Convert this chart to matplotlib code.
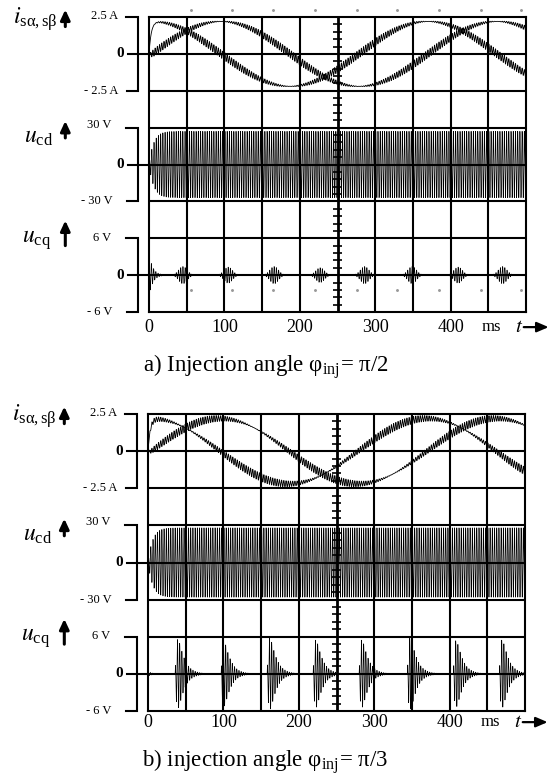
import numpy as np
import matplotlib
matplotlib.use('Agg')
import matplotlib.pyplot as plt

plt.rcParams['font.family'] = ['Liberation Serif', 'DejaVu Serif']
plt.rcParams['mathtext.fontset'] = 'stix'

# ---- values ----
captions = ['a) Injection angle φ$_{\\mathregular{inj}}$= π/2',
            'b) injection angle φ$_{\\mathregular{inj}}$= π/3']
x_tick_ms = [0, 100, 200, 300, 400]

# stator currents i_sα, i_sβ (A)
cur_peak = [2.2, 2.2]
cur_period_ms = [366, 366]
cur_delay_ms = [4, 4]
cur_ripple = [0.27, 0.27]
ripple_shift = [0.0, np.pi / 4]

# injected d voltage (V)
ucd_peak = [27, 28]
carrier_hz = 340

# q voltage bursts: start transient + bursts (ms, V)
ucq_start_v = [3.6, 0.4]
ucq_burst_ms = [[45, 105, 166, 227, 286, 349, 410, 469],
                [36, 97, 158, 219, 280, 344, 405, 466]]
ucq_burst_v = [[1.4, 1.3, 1.4, 1.2, 1.4, 1.4, 1.3, 1.4],
               [5.6, 5.3, 5.8, 5.5, 5.5, 5.8, 5.4, 5.5]]

# faint scope dots (panel a only)
dot_ms = [56, 110, 164, 220, 276, 329, 385, 440, 493]

# scale per division
div_i = 2.5
div_ucd = 30.0
div_ucq = 6.0

t = np.linspace(0, 500, 50001)
carrier = np.sin(2 * np.pi * carrier_hz * t / 1000)


def currents(k):
    th = 2 * np.pi * (t - cur_delay_ms[k]) / cur_period_ms[k]
    env = 1 - np.exp(-t / 3.0)
    ia = cur_peak[k] * np.cos(th) * env + cur_ripple[k] * np.sin(th - ripple_shift[k]) * carrier * env
    ib = cur_peak[k] * np.sin(th) * env - cur_ripple[k] * np.cos(th - ripple_shift[k]) * carrier * env
    return ia, ib


def ucq_wave(k):
    u = ucq_start_v[k] * np.exp(-t / 5.0) * (1 - np.exp(-t / 0.6)) * np.sin(2 * np.pi * carrier_hz * t / 1000 + 1.0)
    for c, a in zip(ucq_burst_ms[k], ucq_burst_v[k]):
        x = t - c
        if k == 0:
            g = np.exp(-(x / 8.0) ** 2)
            u += a * g * np.cos(2 * np.pi * carrier_hz * x / 1000)
        else:
            xp = np.clip(x, 0, None)
            g = (1 - np.exp(-xp / 2.5)) * np.exp(-xp / 8.0)
            g = g / g.max()
            u += a * g * np.sin(2 * np.pi * carrier_hz * xp / 1000 + 1.3)
    return u


def draw_panel(ax, k, tick_y, cap_y):
    ax.set_xlim(0, 500)
    ax.set_ylim(0, 8)
    ax.set_xticks([])
    ax.set_yticks([])
    for s in ax.spines.values():
        s.set_linewidth(1.5)

    # grid
    for y in range(1, 8):
        ax.axhline(y, color='k', lw=1.5, zorder=3)
    for x in range(50, 500, 50):
        ax.axvline(x, color='k', lw=1.5 if x != 250 else 2.0, zorder=3)
    yt = np.arange(0, 8.01, 0.2)
    ax.hlines(yt, 250 - 5.5, 250 + 5.5, color='k', lw=1.2, zorder=3)

    # signals
    ia, ib = currents(k)
    ax.plot(t, 7 + ia / div_i, color='k', lw=0.6, zorder=2)
    ax.plot(t, 7 + ib / div_i, color='k', lw=0.6, zorder=2)
    ucd = ucd_peak[k] * (1 - np.exp(-t / 6.0)) * carrier
    ax.plot(t, 4 + ucd / div_ucd, color='k', lw=0.5, zorder=2)
    ax.plot(t, 1 + ucq_wave(k) / div_ucq, color='k', lw=0.5, zorder=2)

    if k == 0:
        ax.plot(dot_ms, [8.18] * len(dot_ms), 'o', color='0.6', ms=1.1, clip_on=False)
        ax.plot(dot_ms, [0.6] * len(dot_ms), 'o', color='0.6', ms=1.1, clip_on=False)

    # brackets and zero markers
    for z in [7, 4, 1]:
        ax.plot([-31, -14.2, -14.2, -29], [z + 1, z + 1, z - 1, z - 1], color='k', lw=1.5, clip_on=False,
                solid_joinstyle='miter')
        ax.plot([-28, 0], [z, z], color='k', lw=1.5, clip_on=False)
        ax.text(-33, z, '0', ha='right', va='center', fontsize=11, fontweight='bold')

    ax.text(-41, 8.03, '2.5 A', ha='right', va='center', fontsize=9)
    ax.text(-41, 6.0, '- 2.5 A', ha='right', va='center', fontsize=9)
    ax.text(-50, 5.08, '30 V', ha='right', va='center', fontsize=9)
    ax.text(-48, 3.0, '- 30 V', ha='right', va='center', fontsize=9)
    ax.text(-50, 2.02, '6 V', ha='right', va='center', fontsize=9)
    ax.text(-48, 0.0, '- 6 V', ha='right', va='center', fontsize=9)

    # channel names with arrows
    ax.text(-181, 7.95, '$i_{\\mathregular{sα,sβ}}$', ha='left', va='center', fontsize=17)
    ax.text(-166, 4.72, '$u_{\\mathregular{cd}}$', ha='left', va='center', fontsize=17)
    ax.text(-168, 1.96, '$u_{\\mathregular{cq}}$', ha='left', va='center', fontsize=17)
    for y0, y1 in [(7.74, 8.2), (4.72, 5.18), (1.8, 2.48)]:
        ax.annotate('', xy=(-111, y1), xytext=(-111, y0), annotation_clip=False,
                    arrowprops=dict(arrowstyle='-|>,head_width=0.28,head_length=0.6', lw=2.2, color='k',
                                    shrinkA=0, shrinkB=0, mutation_scale=10))

    # time axis
    for x in x_tick_ms:
        ax.text(x, tick_y, str(x), ha='center', va='center', fontsize=13)
    ax.text(454, tick_y, 'ms', ha='center', va='center', fontsize=12)
    ax.text(491, tick_y, '$t$', ha='center', va='center', fontsize=15)
    ax.annotate('', xy=(530, tick_y), xytext=(497, tick_y), annotation_clip=False,
                arrowprops=dict(arrowstyle='-|>,head_width=0.3,head_length=0.7', lw=1.6, color='k',
                                shrinkA=0, shrinkB=0, mutation_scale=10))

    ax.text(-8, cap_y, captions[k], ha='left', va='center', fontsize=16.5)


fig = plt.figure(figsize=(5.53, 7.83), dpi=100)
ax_a = fig.add_axes([149 / 553, 1 - 312 / 783, 377 / 553, 295 / 783])
ax_b = fig.add_axes([148 / 553, 1 - 711 / 783, 377 / 553, 297 / 783])
draw_panel(ax_a, 0, -0.41, -1.49)
draw_panel(ax_b, 1, -0.3, -1.37)

fig.savefig('out.png', dpi=100)
